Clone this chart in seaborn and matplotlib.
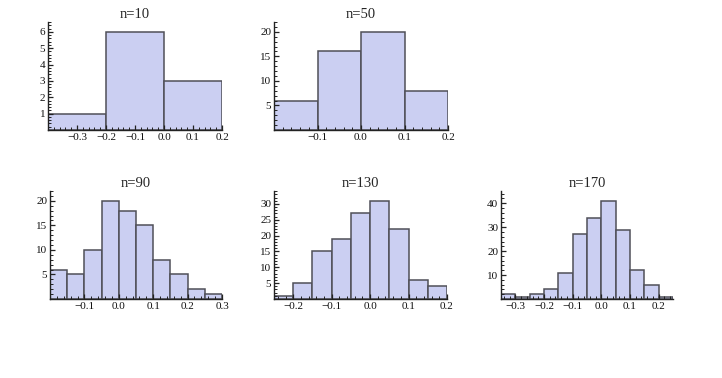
import numpy as np
import pandas as pd
import seaborn as sns
import matplotlib.pyplot as plt
from matplotlib.ticker import MultipleLocator

sns.set_style("ticks")
plt.rcParams['font.family'] = ['Liberation Serif', 'DejaVu Serif']

# sample sizes and histogram counts
titles = ["n=10", "n=50", "n=90", "n=130", "n=170"]

edges_10 = [-0.4, -0.2, 0.0, 0.2]
counts_10 = [1, 6, 3]

edges_50 = [-0.2, -0.1, 0.0, 0.1, 0.2]
counts_50 = [6, 16, 20, 8]

edges_90 = [-0.2, -0.15, -0.1, -0.05, 0.0, 0.05, 0.1, 0.15, 0.2, 0.25, 0.3]
counts_90 = [6, 5, 10, 20, 18, 15, 8, 5, 2, 1]

edges_130 = [-0.25, -0.2, -0.15, -0.1, -0.05, 0.0, 0.05, 0.1, 0.15, 0.2]
counts_130 = [1, 5, 15, 19, 27, 31, 22, 6, 4]

edges_170 = [-0.35, -0.3, -0.25, -0.2, -0.15, -0.1, -0.05, 0.0, 0.05, 0.1, 0.15, 0.2, 0.25]
counts_170 = [2, 1, 2, 4, 11, 27, 34, 41, 29, 12, 6, 1]

panels = [
    (edges_10, counts_10, (48, 222, 22, 130), 1, 0.2),
    (edges_50, counts_50, (274, 448, 22, 130), 5, 1),
    (edges_90, counts_90, (50, 222, 191, 299), 5, 1),
    (edges_130, counts_130, (274, 447, 191, 299), 5, 1),
    (edges_170, counts_170, (501, 673, 191, 299), 10, 2),
]

W, H = 722, 378
fig = plt.figure(figsize=(W / 100, H / 100), dpi=100)

for title, (edges, counts, (l, r, t, b), ymaj, ymin) in zip(titles, panels):
    ax = fig.add_axes([l / W, 1 - b / H, (r - l) / W, (b - t) / H])
    e = np.array(edges)
    df = pd.DataFrame({"x": (e[:-1] + e[1:]) / 2, "count": counts})
    sns.histplot(data=df, x="x", weights="count", bins=list(edges), ax=ax,
                 color="#cbcff2", edgecolor="#505058", linewidth=1.1, alpha=1)
    ax.set_xlim(edges[0], edges[-1])
    ax.set_ylim(0, max(counts) * 1.1)
    ax.set_xlabel("")
    ax.set_ylabel("")
    ax.set_axisbelow(False)

    xt = [round(v, 1) for v in np.arange(-0.4, 0.31, 0.1)
          if v > edges[0] + 1e-6 and v < edges[-1] + 1e-6]
    ax.set_xticks(xt)
    ax.set_xticklabels([("%.1f" % v).replace("-", "\u2212") if abs(v) > 1e-9 else "0.0" for v in xt])
    yt = list(np.arange(ymaj, max(counts) * 1.1, ymaj))
    ax.set_yticks(yt)
    ax.set_yticklabels(["%d" % v for v in yt])
    ax.xaxis.set_minor_locator(MultipleLocator(0.02))
    ax.yaxis.set_minor_locator(MultipleLocator(ymin))

    ax.tick_params(which="major", direction="in", length=3.5, width=0.9,
                   labelsize=8, pad=2, color="#222222", labelcolor="#111111")
    ax.tick_params(which="minor", direction="in", length=2, width=0.7,
                   color="#222222")
    for s in ["top", "right"]:
        ax.spines[s].set_visible(False)
    for s in ["left", "bottom"]:
        ax.spines[s].set_linewidth(1.0)
        ax.spines[s].set_color("#222222")
    ax.set_title(title, fontsize=10.5, pad=3)

fig.savefig("out.png", dpi=100)
